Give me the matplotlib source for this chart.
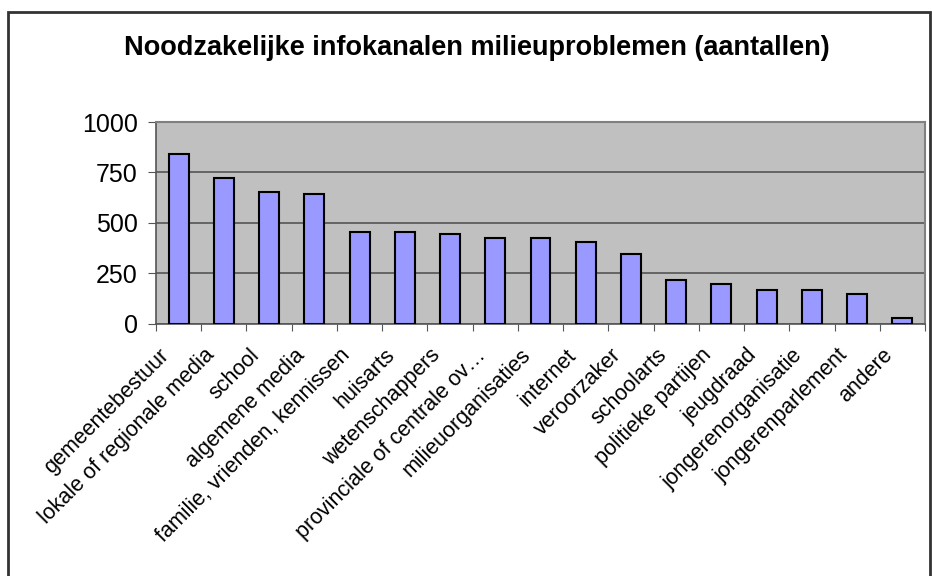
import matplotlib
matplotlib.use('Agg')
from matplotlib import pyplot as plt
from matplotlib.patches import Rectangle

plt.rcParams['font.family'] = ['Liberation Sans', 'DejaVu Sans']

# infokanalen, gesorteerd
lstKanalen = ['gemeentebestuur', 'lokale of regionale media', 'school', 'algemene media',
              'familie, vrienden, kennissen', 'huisarts', 'wetenschappers',
              'provinciale of centrale ov\u2026', 'milieuorganisaties', 'internet',
              'veroorzaker', 'schoolarts', 'politieke partijen', 'jeugdraad',
              'jongerenorganisatie', 'jongerenparlement', 'andere']
lstAantallen = [843, 723, 654, 644, 454, 454, 445, 425, 425, 406, 346, 217, 197, 167, 167, 147, 28]
lstYTicks = [0, 250, 500, 750, 1000]

fig = plt.figure(figsize=(9.32, 5.76), dpi=100)
ax = fig.add_axes([156/932, 1 - 323.5/576, 769/932, 201.5/576])

# chart border (excel style)
fig.patches.append(Rectangle((7.5/932, -0.1), (930-7.5)/932, 1.1 - 12/576, transform=fig.transFigure,
                             fill=False, edgecolor='#333333', linewidth=2))

ax.set_facecolor('#C0C0C0')
x = range(len(lstKanalen))
ax.bar(x, lstAantallen, width=0.44, color='#9999FF', edgecolor='black', linewidth=1.5, zorder=3)

ax.set_xlim(-0.5, len(lstKanalen) - 0.5)
ax.set_ylim(0, 1000)
ax.set_yticks(lstYTicks)
ax.set_yticklabels([str(t) for t in lstYTicks], fontsize=18)
ax.yaxis.grid(True, color='#555555', linewidth=1.2, zorder=1)

# ticks between categories
ax.set_xticks([i - 0.5 for i in range(len(lstKanalen) + 1)])
ax.set_xticklabels([])
ax.tick_params(axis='x', direction='out', length=5, color='#555555')
ax.tick_params(axis='y', direction='out', length=6, color='#555555', pad=7)
for i, strLabel in enumerate(lstKanalen):
    ax.text(i - 0.45, -105, strLabel, rotation=45, rotation_mode='anchor', ha='right', va='top',
            fontsize=15.5, transform=ax.transData)

for side in ['top', 'right']:
    ax.spines[side].set_color('#808080')
    ax.spines[side].set_linewidth(1.5)
for side in ['left', 'bottom']:
    ax.spines[side].set_color('#555555')
    ax.spines[side].set_linewidth(1.2)

fig.text(0.512, 1 - 48/576, 'Noodzakelijke infokanalen milieuproblemen (aantallen)', ha='center', va='center',
         fontsize=19.5, fontweight='bold')

plt.savefig('out.png', dpi=100)
